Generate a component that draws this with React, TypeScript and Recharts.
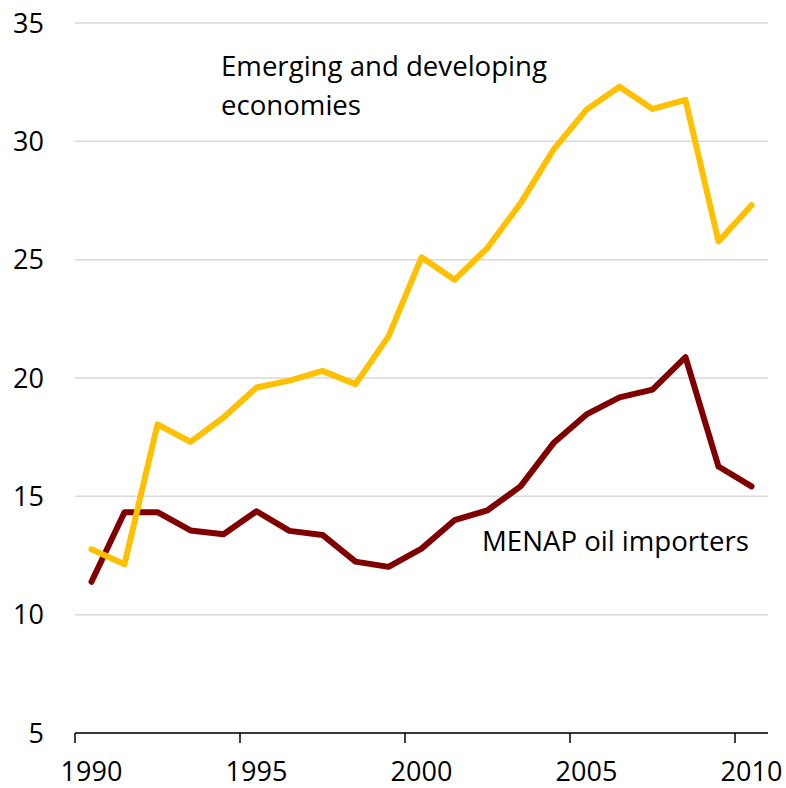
import { LineChart, Line, XAxis, YAxis, CartesianGrid, Customized } from 'recharts';

const years = [
  1990, 1991, 1992, 1993, 1994, 1995, 1996, 1997, 1998, 1999, 2000,
  2001, 2002, 2003, 2004, 2005, 2006, 2007, 2008, 2009, 2010,
];

const emerging = [
  12.76, 12.13, 18.04, 17.3, 18.33, 19.6, 19.89, 20.3, 19.74, 21.76, 25.1,
  24.15, 25.5, 27.38, 29.65, 31.34, 32.31, 31.37, 31.75, 25.77, 27.3,
];

const menap = [
  11.39, 14.33, 14.33, 13.56, 13.4, 14.37, 13.54, 13.37, 12.24, 12.02, 12.79,
  13.99, 14.41, 15.42, 17.25, 18.46, 19.18, 19.51, 20.88, 16.26, 15.42,
];

// category boundaries, Excel-style: tick marks between years, labels centred
const tickBounds = [1989.5, 1994.5, 1999.5, 2004.5, 2009.5];
const yTicks = [5, 10, 15, 20, 25, 30, 35];

const FONT = '"Open Sans", sans-serif';

const data = years.map((year, i) => ({
  year,
  emerging: emerging[i],
  menap: menap[i],
}));

const SeriesLabels = () => (
  <g fontFamily={FONT} fontSize={27.6} fill="#000">
    <text x={221} y={76}>Emerging and developing</text>
    <text x={221} y={115}>economies</text>
    <text x={482} y={551}>MENAP oil importers</text>
  </g>
);

export default function App() {
  return (
    <div style={{ position: 'absolute', left: 0, top: 0 }}>
      <LineChart
        width={786}
        height={788}
        data={data}
        margin={{ top: 23, right: 18, left: 0, bottom: 0 }}
      >
        <CartesianGrid horizontal vertical={false} stroke="#d9d9d9" strokeWidth={1.5} />
        <XAxis
          dataKey="year"
          type="number"
          domain={[1989.5, 2010.5]}
          ticks={tickBounds}
          tickFormatter={(v: number) => String(v + 0.5)}
          height={55}
          tickSize={10}
          tickMargin={19}
          stroke="#000"
          strokeWidth={1.5}
          tick={{ fill: '#000', fontSize: 27, fontFamily: FONT, dx: 16.5 }}
        />
        <YAxis
          domain={[5, 35]}
          ticks={yTicks}
          width={75}
          axisLine={false}
          tickLine={false}
          tickMargin={25}
          tick={{ fill: '#000', fontSize: 27, fontFamily: FONT }}
        />
        <Line
          type="linear"
          dataKey="menap"
          stroke="#800000"
          strokeWidth={6}
          dot={false}
          strokeLinejoin="round"
          strokeLinecap="round"
          isAnimationActive={false}
        />
        <Line
          type="linear"
          dataKey="emerging"
          stroke="#ffc000"
          strokeWidth={6}
          dot={false}
          strokeLinejoin="round"
          strokeLinecap="round"
          isAnimationActive={false}
        />
        <Customized component={SeriesLabels} />
      </LineChart>
    </div>
  );
}
